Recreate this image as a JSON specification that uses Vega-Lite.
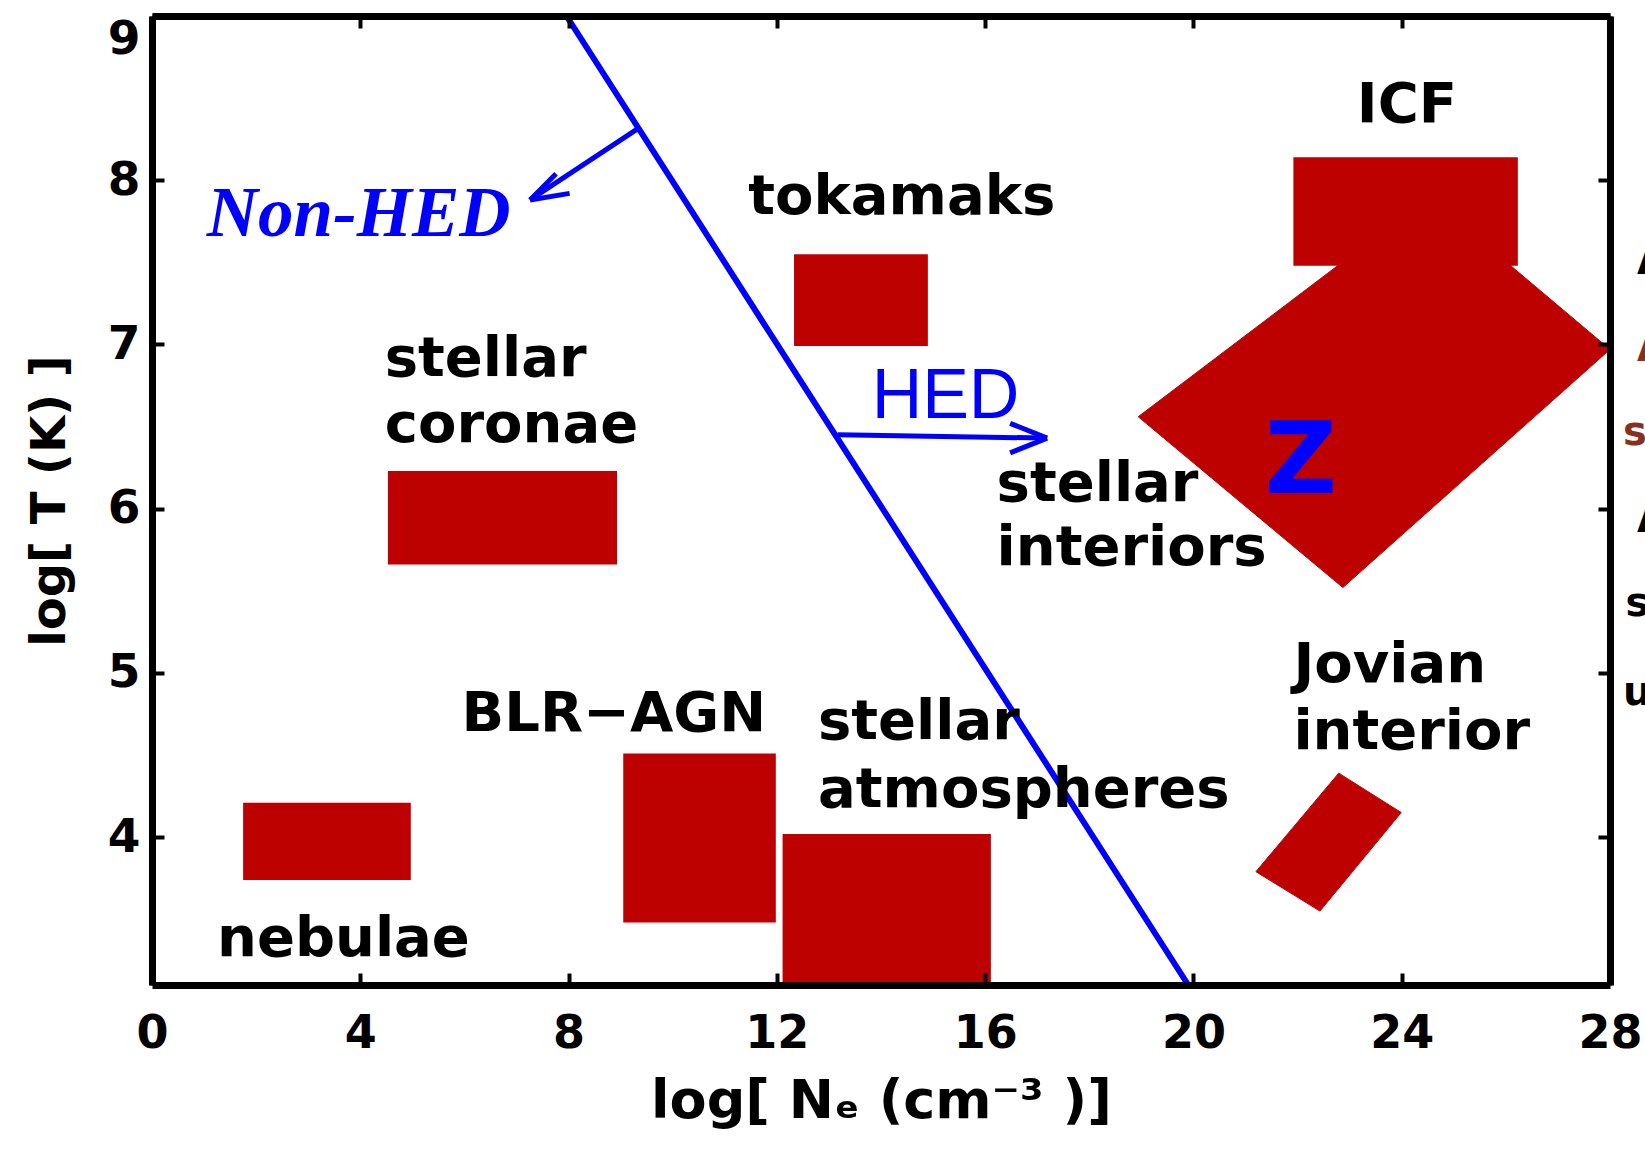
{
  "$schema": "https://vega.github.io/schema/vega-lite/v6.json",
  "width": 1458,
  "height": 969,
  "autosize": {"type": "none"},
  "padding": {"left": 152, "top": 16, "right": 35, "bottom": 166},
  "background": "white",
  "config": {"view": {"stroke": null}},
  "datasets": {
    "boxes": [
      {"name": "nebulae", "x1": 1.75, "x2": 4.97, "y1": 3.74, "y2": 4.21},
      {"name": "stellar coronae", "x1": 4.53, "x2": 8.93, "y1": 5.66, "y2": 6.23},
      {"name": "BLR-AGN", "x1": 9.05, "x2": 11.98, "y1": 3.48, "y2": 4.51},
      {"name": "stellar atmospheres", "x1": 12.11, "x2": 16.11, "y1": 3.1, "y2": 4.02},
      {"name": "tokamaks", "x1": 12.33, "x2": 14.9, "y1": 6.99, "y2": 7.55},
      {"name": "ICF", "x1": 21.92, "x2": 26.23, "y1": 7.48, "y2": 8.14}
    ],
    "polys": [
      {"shape": "Z", "i": 0, "x": 18.94, "y": 6.56},
      {"shape": "Z", "i": 1, "x": 24.52, "y": 7.9},
      {"shape": "Z", "i": 2, "x": 28.0, "y": 6.97},
      {"shape": "Z", "i": 3, "x": 22.87, "y": 5.52},
      {"shape": "Z", "i": 4, "x": 18.94, "y": 6.56},
      {"shape": "Jovian", "i": 0, "x": 22.79, "y": 4.39},
      {"shape": "Jovian", "i": 1, "x": 23.99, "y": 4.15},
      {"shape": "Jovian", "i": 2, "x": 22.43, "y": 3.55},
      {"shape": "Jovian", "i": 3, "x": 21.2, "y": 3.79},
      {"shape": "Jovian", "i": 4, "x": 22.79, "y": 4.39}
    ],
    "hedline": [{"x": 7.96, "y": 9.0, "x2": 19.9, "y2": 3.1}],
    "arrows": [
      {"x": 13.17, "y": 6.45, "x2": 17.19, "y2": 6.43},
      {"x": 17.19, "y": 6.43, "x2": 16.48, "y2": 6.52},
      {"x": 17.19, "y": 6.43, "x2": 16.48, "y2": 6.34},
      {"x": 9.31, "y": 8.31, "x2": 7.26, "y2": 7.88},
      {"x": 7.26, "y": 7.88, "x2": 7.76, "y2": 8.04},
      {"x": 7.26, "y": 7.88, "x2": 8.02, "y2": 7.92}
    ],
    "leftLabels": [
      {"t": "stellar", "x": 4.47, "y": 6.91},
      {"t": "coronae", "x": 4.47, "y": 6.51},
      {"t": "stellar", "x": 16.22, "y": 6.15},
      {"t": "interiors", "x": 16.22, "y": 5.76},
      {"t": "Jovian", "x": 21.92, "y": 5.05},
      {"t": "interior", "x": 21.92, "y": 4.64},
      {"t": "stellar", "x": 12.79, "y": 4.7},
      {"t": "atmospheres", "x": 12.79, "y": 4.29},
      {"t": "nebulae", "x": 1.25, "y": 3.38}
    ],
    "centerLabels": [
      {"t": "ICF", "x": 24.1, "y": 8.46},
      {"t": "tokamaks", "x": 14.4, "y": 7.9},
      {"t": "BLR−AGN", "x": 8.87, "y": 4.75}
    ],
    "nonhed": [{"t": "Non-HED", "x": 3.97, "y": 7.79}],
    "hed": [{"t": "HED", "x": 13.82, "y": 6.68}],
    "zlabel": [{"t": "Z", "x": 22.06, "y": 6.28}],
    "fragBlack": [
      {"t": "A", "x": 28.52, "y": 7.5},
      {"t": "A", "x": 28.52, "y": 5.93},
      {"t": "s", "x": 28.3, "y": 5.42},
      {"t": "u", "x": 28.25, "y": 4.88}
    ],
    "fragRed": [
      {"t": "A", "x": 28.52, "y": 6.97},
      {"t": "s", "x": 28.25, "y": 6.46}
    ]
  },
  "layer": [
    {
      "data": {"name": "boxes"},
      "mark": {"type": "rect", "color": "#bd0000"},
      "encoding": {
        "x": {
          "field": "x1", "type": "quantitative",
          "scale": {"domain": [0, 28], "nice": false, "zero": false},
          "axis": {
            "orient": "bottom", "values": [0, 4, 8, 12, 16, 20, 24, 28],
            "title": "log[ Nₑ  (cm⁻³ )]", "grid": false, "zindex": 1,
            "labelFont": "DejaVu Sans", "labelFontWeight": "bold", "labelFontSize": 46, "labelColor": "black",
            "labelPadding": 38, "labelFlush": false,
            "tickSize": -12, "tickWidth": 4, "tickColor": "black",
            "domainColor": "black", "domainWidth": 7,
            "titleFont": "DejaVu Sans", "titleFontWeight": "bold", "titleFontSize": 54, "titleColor": "black",
            "titlePadding": 18
          }
        },
        "x2": {"field": "x2"},
        "y": {
          "field": "y1", "type": "quantitative",
          "scale": {"domain": [3.1, 9], "nice": false, "zero": false},
          "axis": {
            "orient": "left", "values": [4, 5, 6, 7, 8, 9],
            "title": "log[ T (K) ]", "grid": false, "zindex": 1,
            "labelFont": "DejaVu Sans", "labelFontWeight": "bold", "labelFontSize": 47, "labelColor": "black",
            "labelPadding": 24, "labelFlush": true,
            "tickSize": -12, "tickWidth": 4, "tickColor": "black",
            "domainColor": "black", "domainWidth": 7,
            "titleFont": "DejaVu Sans", "titleFontWeight": "bold", "titleFontSize": 48, "titleColor": "black",
            "titlePadding": 33
          }
        },
        "y2": {"field": "y2"}
      }
    },
    {
      "data": {"name": "polys"},
      "mark": {"type": "line", "fill": "#bd0000", "stroke": "#bd0000", "strokeWidth": 1},
      "encoding": {
        "x": {
          "field": "x", "type": "quantitative",
          "scale": {"domain": [0, 28], "nice": false, "zero": false},
          "axis": {
            "orient": "top", "values": [0, 4, 8, 12, 16, 20, 24, 28], "labels": false, "title": null,
            "grid": false, "zindex": 1, "tickSize": -12, "tickWidth": 4, "tickColor": "black",
            "domainColor": "black", "domainWidth": 7
          }
        },
        "y": {
          "field": "y", "type": "quantitative",
          "scale": {"domain": [3.1, 9], "nice": false, "zero": false},
          "axis": {
            "orient": "right", "values": [4, 5, 6, 7, 8, 9], "labels": false, "title": null,
            "grid": false, "zindex": 1, "tickSize": -12, "tickWidth": 4, "tickColor": "black",
            "domainColor": "black", "domainWidth": 7
          }
        },
        "detail": {"field": "shape", "type": "nominal"},
        "order": {"field": "i", "type": "quantitative"}
      }
    },
    {
      "data": {"name": "hedline"},
      "mark": {"type": "rule", "color": "#0000ff", "strokeWidth": 6},
      "encoding": {
        "x": {"field": "x", "type": "quantitative", "scale": {"domain": [0, 28], "nice": false, "zero": false}, "axis": null},
        "y": {"field": "y", "type": "quantitative", "scale": {"domain": [3.1, 9], "nice": false, "zero": false}, "axis": null},
        "x2": {"field": "x2"},
        "y2": {"field": "y2"}
      }
    },
    {
      "data": {"name": "arrows"},
      "mark": {"type": "rule", "color": "#0000ff", "strokeWidth": 5},
      "encoding": {
        "x": {"field": "x", "type": "quantitative", "scale": {"domain": [0, 28], "nice": false, "zero": false}, "axis": null},
        "y": {"field": "y", "type": "quantitative", "scale": {"domain": [3.1, 9], "nice": false, "zero": false}, "axis": null},
        "x2": {"field": "x2"},
        "y2": {"field": "y2"}
      }
    },
    {
      "data": {"name": "leftLabels"},
      "mark": {"type": "text", "align": "left", "baseline": "middle", "font": "DejaVu Sans", "fontWeight": "bold", "fontSize": 56, "color": "black"},
      "encoding": {
        "x": {"field": "x", "type": "quantitative", "scale": {"domain": [0, 28], "nice": false, "zero": false}, "axis": null},
        "y": {"field": "y", "type": "quantitative", "scale": {"domain": [3.1, 9], "nice": false, "zero": false}, "axis": null},
        "text": {"field": "t"}
      }
    },
    {
      "data": {"name": "centerLabels"},
      "mark": {"type": "text", "align": "center", "baseline": "middle", "font": "DejaVu Sans", "fontWeight": "bold", "fontSize": 56, "color": "black"},
      "encoding": {
        "x": {"field": "x", "type": "quantitative", "scale": {"domain": [0, 28], "nice": false, "zero": false}, "axis": null},
        "y": {"field": "y", "type": "quantitative", "scale": {"domain": [3.1, 9], "nice": false, "zero": false}, "axis": null},
        "text": {"field": "t"}
      }
    },
    {
      "data": {"name": "nonhed"},
      "mark": {"type": "text", "align": "center", "baseline": "middle", "font": "Liberation Serif", "fontWeight": "bold", "fontStyle": "italic", "fontSize": 71, "color": "#0000ff"},
      "encoding": {
        "x": {"field": "x", "type": "quantitative", "scale": {"domain": [0, 28], "nice": false, "zero": false}, "axis": null},
        "y": {"field": "y", "type": "quantitative", "scale": {"domain": [3.1, 9], "nice": false, "zero": false}, "axis": null},
        "text": {"field": "t"}
      }
    },
    {
      "data": {"name": "hed"},
      "mark": {"type": "text", "align": "left", "baseline": "middle", "font": "Liberation Sans", "fontSize": 70, "color": "#0000ff"},
      "encoding": {
        "x": {"field": "x", "type": "quantitative", "scale": {"domain": [0, 28], "nice": false, "zero": false}, "axis": null},
        "y": {"field": "y", "type": "quantitative", "scale": {"domain": [3.1, 9], "nice": false, "zero": false}, "axis": null},
        "text": {"field": "t"}
      }
    },
    {
      "data": {"name": "zlabel"},
      "mark": {"type": "text", "align": "center", "baseline": "middle", "font": "DejaVu Sans", "fontWeight": "bold", "fontSize": 100, "color": "#0000ff"},
      "encoding": {
        "x": {"field": "x", "type": "quantitative", "scale": {"domain": [0, 28], "nice": false, "zero": false}, "axis": null},
        "y": {"field": "y", "type": "quantitative", "scale": {"domain": [3.1, 9], "nice": false, "zero": false}, "axis": null},
        "text": {"field": "t"}
      }
    },
    {
      "data": {"name": "fragBlack"},
      "mark": {"type": "text", "align": "left", "baseline": "middle", "font": "DejaVu Sans", "fontWeight": "bold", "fontSize": 40, "color": "black"},
      "encoding": {
        "x": {"field": "x", "type": "quantitative", "scale": {"domain": [0, 28], "nice": false, "zero": false}, "axis": null},
        "y": {"field": "y", "type": "quantitative", "scale": {"domain": [3.1, 9], "nice": false, "zero": false}, "axis": null},
        "text": {"field": "t"}
      }
    },
    {
      "data": {"name": "fragRed"},
      "mark": {"type": "text", "align": "left", "baseline": "middle", "font": "DejaVu Sans", "fontWeight": "bold", "fontSize": 40, "color": "#8b2e1e"},
      "encoding": {
        "x": {"field": "x", "type": "quantitative", "scale": {"domain": [0, 28], "nice": false, "zero": false}, "axis": null},
        "y": {"field": "y", "type": "quantitative", "scale": {"domain": [3.1, 9], "nice": false, "zero": false}, "axis": null},
        "text": {"field": "t"}
      }
    }
  ],
  "resolve": {"axis": {"x": "independent", "y": "independent"}}
}
